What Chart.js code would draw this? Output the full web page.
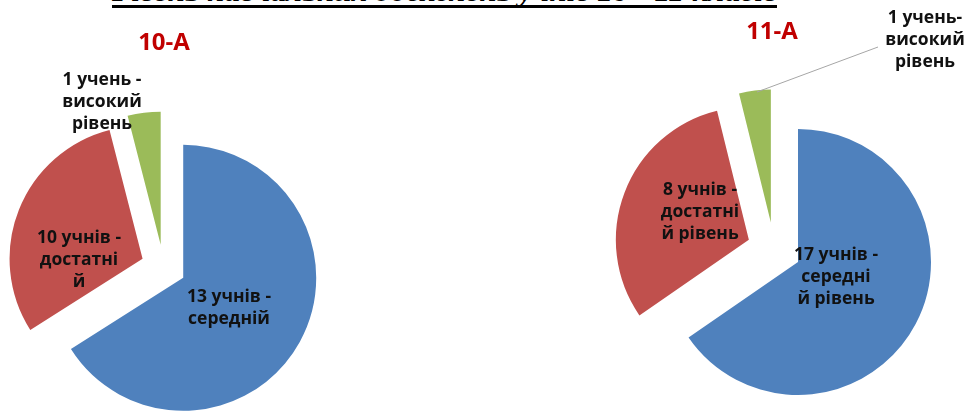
<!DOCTYPE html>
<html><head><meta charset="utf-8">
<script src="https://cdn.jsdelivr.net/npm/chart.js@4/dist/chart.umd.min.js"></script>
<style>
html,body{margin:0;padding:0;background:#fff;width:966px;height:412px;overflow:hidden;position:relative;}
canvas{position:absolute;top:0;}
#c1{left:0}
#c2{left:483px}
#title{position:absolute;left:112px;top:-22.5px;font:italic bold 28px "Liberation Serif";white-space:nowrap;transform-origin:0 0;line-height:28px;color:#000;}
#uline{position:absolute;left:112px;top:5px;width:665px;height:3px;background:#000;}
</style></head><body>
<div id="title">Рівень навчальних досягнень учнів 10 - 11 класів</div>
<div id="uline"></div>
<canvas id="c1" width="483" height="412"></canvas>
<canvas id="c2" width="483" height="412"></canvas>
<script>
// ---- data ----
const categories = ['середній рівень', 'достатній рівень', 'високий рівень'];
const chartTitles = ['10-А', '11-А'];
const values10A = [66, 30, 4];   // slice shares as drawn in the picture
const values11A = [17, 8, 1];
const labels10A = [['13 учнів -', 'середній'], ['10 учнів -', 'достатні', 'й'], ['1 учень -', 'високий', 'рівень']];
const labels11A = [['17 учнів -', 'середні', 'й рівень'], ['8 учнів -', 'достатні', 'й рівень'], ['1 учень-', 'високий', 'рівень']];
const colors = ['#4F81BD', '#C0504D', '#9BBB59'];

// fit top title
const t = document.getElementById('title');
const w = t.getBoundingClientRect().width;
t.style.transform = 'scaleX(' + (665 / w) + ')';

const explodePlugin = {
  id: 'explode',
  beforeDatasetDraw(chart, args, opts) {
    const ctx = chart.ctx;
    args.meta.data.forEach(arc => {
      const a = (arc.startAngle + arc.endAngle) / 2;
      ctx.save();
      ctx.translate(Math.cos(a) * opts.distance, Math.sin(a) * opts.distance);
      arc.draw(ctx);
      ctx.restore();
    });
    return false;
  }
};

const textPlugin = {
  id: 'texts',
  afterDraw(chart, args, opts) {
    const ctx = chart.ctx;
    ctx.save();
    ctx.textAlign = 'center';
    ctx.textBaseline = 'middle';
    ctx.fillStyle = '#C00000';
    ctx.font = 'bold 24px "Open Sans"';
    ctx.fillText(opts.title, opts.titlePos[0], opts.titlePos[1]);
    if (opts.leader) {
      ctx.strokeStyle = '#A6A6A6';
      ctx.lineWidth = 1;
      ctx.beginPath();
      ctx.moveTo(opts.leader[0], opts.leader[1]);
      ctx.lineTo(opts.leader[2], opts.leader[3]);
      ctx.stroke();
    }
    ctx.fillStyle = '#111';
    ctx.font = 'bold 17.5px "Open Sans"';
    opts.labels.forEach((lines, i) => {
      const p = opts.labelPos[i];
      lines.forEach((ln, j) => ctx.fillText(ln, p[0], p[1] + j * opts.lineH));
    });
    ctx.restore();
  }
};

function makeChart(id, values, labels, title, cfg) {
  return new Chart(document.getElementById(id), {
    type: 'pie',
    data: {
      labels: categories,
      datasets: [{ data: values, backgroundColor: colors, borderWidth: 0, radius: 133 }]
    },
    options: {
      responsive: false,
      animation: false,
      layout: { padding: cfg.padding },
      plugins: {
        legend: { display: false },
        tooltip: { enabled: false },
        explode: { distance: cfg.distance },
        texts: { title: title, titlePos: cfg.titlePos, labels: labels, labelPos: cfg.labelPos, lineH: 22, leader: cfg.leader }
      }
    },
    plugins: [explodePlugin, textPlugin]
  });
}

makeChart('c1', values10A, labels10A, chartTitles[0], {
  padding: { left: 0, right: 156, top: 122, bottom: 0 },
  distance: 22.5,
  titlePos: [164, 43],
  labelPos: [[229, 297], [79, 238], [102, 80]]
});
makeChart('c2', values11A, labels11A, chartTitles[1], {
  padding: { left: 99.2, right: 0, top: 86.8, bottom: 0 },
  distance: 27,
  titlePos: [289, 32],
  labelPos: [[353, 255], [217, 190], [442, 18]],
  leader: [274, 92, 395, 47]
});
</script>
</body></html>
